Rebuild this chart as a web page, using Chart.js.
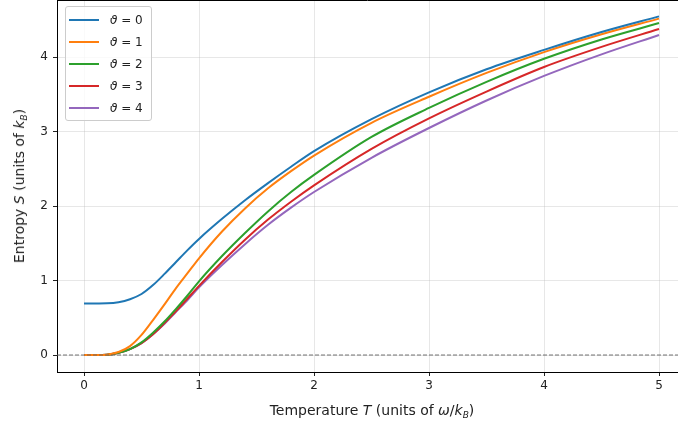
<!DOCTYPE html>
<html>
<head>
<meta charset="utf-8">
<script src="https://cdn.jsdelivr.net/npm/chart.js@4"></script>
<style>
  html, body { margin: 0; padding: 0; background: #fff; }
  #wrap { position: relative; width: 678px; height: 431px; font-family: 'DejaVu Sans', sans-serif; color: #222; }
  #chart { position: absolute; left: 0; top: 0; }
  .xtitle { position: absolute; left: 0; width: 744px; top: 402px; text-align: center; font-size: 14px; white-space: nowrap; }
  .ytitle { position: absolute; left: 20px; top: 186px; font-size: 14px; white-space: nowrap; transform: translate(-50%, -50%) rotate(-90deg); }
  sub { font-size: 9px; vertical-align: -3px; font-style: italic; }
  #legend { position: absolute; left: 65px; top: 6px; width: 85px; height: 113px; border: 1px solid #ccc; border-radius: 3px; background: rgba(255,255,255,0.8); }
  .row { position: absolute; left: 0; height: 14px; font-size: 12px; line-height: 14px; white-space: nowrap; }
  .row span.ln { position: absolute; left: 3px; top: 6px; width: 30px; height: 2px; }
  .row span.tx { position: absolute; left: 44px; top: 0; }
</style>
</head>
<body>
<div id="wrap">
  <canvas id="chart" width="678" height="431"></canvas>
  <div class="xtitle">Temperature <i>T</i> (units of <i>ω</i>/<i>k</i><sub>B</sub>)</div>
  <div class="ytitle">Entropy <i>S</i> (units of <i>k</i><sub>B</sub>)</div>
  <div id="legend"></div>
</div>
<script>
// temperature grid and entropy curves
var tempList = [0, 0.1, 0.2, 0.3, 0.4, 0.5, 0.6, 0.7, 0.8, 0.9, 1.0, 1.2, 1.4, 1.6, 1.8, 2.0, 2.5, 3.0, 3.5, 4.0, 4.5, 5.0];
var theta0 = [0.693, 0.693, 0.695, 0.71, 0.75, 0.82, 0.94, 1.09, 1.25, 1.41, 1.56, 1.83, 2.08, 2.31, 2.53, 2.74, 3.17, 3.53, 3.84, 4.10, 4.34, 4.55];
var theta1 = [0, 0, 0.005, 0.04, 0.12, 0.27, 0.47, 0.68, 0.90, 1.10, 1.30, 1.66, 1.97, 2.24, 2.47, 2.68, 3.12, 3.47, 3.79, 4.07, 4.31, 4.52];
var theta2 = [0, 0, 0.003, 0.03, 0.08, 0.17, 0.30, 0.45, 0.62, 0.80, 0.99, 1.33, 1.64, 1.93, 2.19, 2.42, 2.93, 3.32, 3.67, 3.98, 4.24, 4.46];
var theta3 = [0, 0, 0.003, 0.03, 0.08, 0.16, 0.28, 0.43, 0.59, 0.76, 0.93, 1.25, 1.55, 1.82, 2.06, 2.28, 2.77, 3.18, 3.54, 3.87, 4.14, 4.38];
var theta4 = [0, 0, 0.003, 0.03, 0.08, 0.16, 0.28, 0.42, 0.58, 0.74, 0.91, 1.21, 1.49, 1.75, 1.98, 2.19, 2.65, 3.05, 3.42, 3.75, 4.04, 4.30];
var seriesList = [theta0, theta1, theta2, theta3, theta4];
var labelList = ['0', '1', '2', '3', '4'];
var colorList = ['#1f77b4', '#ff7f0e', '#2ca02c', '#d62728', '#9467bd'];

var xMin = -0.235, xMax = 5.165;
var yMin = -0.228, yMax = 4.77;

function makeLegend(){
    var box = document.getElementById('legend');
    labelList.forEach((lab, i) => {
        var row = document.createElement('div');
        row.className = 'row';
        row.style.top = (6 + i * 22) + 'px';
        row.innerHTML = `<span class="ln" style="background:${colorList[i]}"></span><span class="tx"><i>ϑ</i> = ${lab}</span>`;
        box.appendChild(row);
    });
}

// top spine (matplotlib draws a full box, right side is cut off)
var spinePlugin = {
    id: 'spines',
    afterDraw(chart){
        var a = chart.chartArea, ctx = chart.ctx;
        ctx.save();
        ctx.strokeStyle = '#000';
        ctx.lineWidth = 1;
        ctx.beginPath();
        ctx.moveTo(a.left, a.top + 0.5);
        ctx.lineTo(a.right, a.top + 0.5);
        ctx.stroke();
        ctx.restore();
    }
};

function noPad(scale){
    scale.paddingTop = 0;
    scale.paddingBottom = 0;
    scale.paddingLeft = 0;
    scale.paddingRight = 0;
}

function makeChart(){
    var datasets = seriesList.map((s, i) => ({
        label: 'ϑ = ' + labelList[i],
        data: tempList.map((t, j) => ({x: t, y: s[j]})),
        borderColor: colorList[i],
        borderWidth: 2,
        pointRadius: 0,
        cubicInterpolationMode: 'monotone',
        fill: false
    }));
    // dashed zero line
    datasets.unshift({
        label: 'zero',
        data: [{x: xMin, y: 0}, {x: xMax, y: 0}],
        borderColor: 'rgba(100,100,100,0.9)',
        borderWidth: 1,
        borderDash: [4, 2],
        pointRadius: 0
    });

    var tickFont = {family: 'DejaVu Sans', size: 12};
    new Chart(document.getElementById('chart'), {
        type: 'line',
        data: {datasets: datasets},
        plugins: [spinePlugin],
        options: {
            responsive: false,
            animation: false,
            devicePixelRatio: 1,
            layout: {padding: 0},
            plugins: {legend: {display: false}, tooltip: {enabled: false}},
            scales: {
                x: {
                    type: 'linear', min: xMin, max: xMax,
                    ticks: {stepSize: 1, includeBounds: false, color: '#222', font: tickFont, padding: 3, maxRotation: 0},
                    grid: {color: 'rgba(176,176,176,0.3)', tickColor: '#222', tickLength: 4},
                    border: {display: true, color: '#000', width: 1},
                    afterFit(scale){ scale.height = 59; noPad(scale); }
                },
                y: {
                    type: 'linear', min: yMin, max: yMax,
                    ticks: {stepSize: 1, includeBounds: false, color: '#222', font: tickFont, padding: 5},
                    grid: {color: 'rgba(176,176,176,0.3)', tickColor: '#222', tickLength: 4},
                    border: {display: true, color: '#000', width: 1},
                    afterFit(scale){ scale.width = 57; noPad(scale); }
                }
            }
        }
    });
}

makeLegend();
makeChart();
</script>
</body>
</html>
